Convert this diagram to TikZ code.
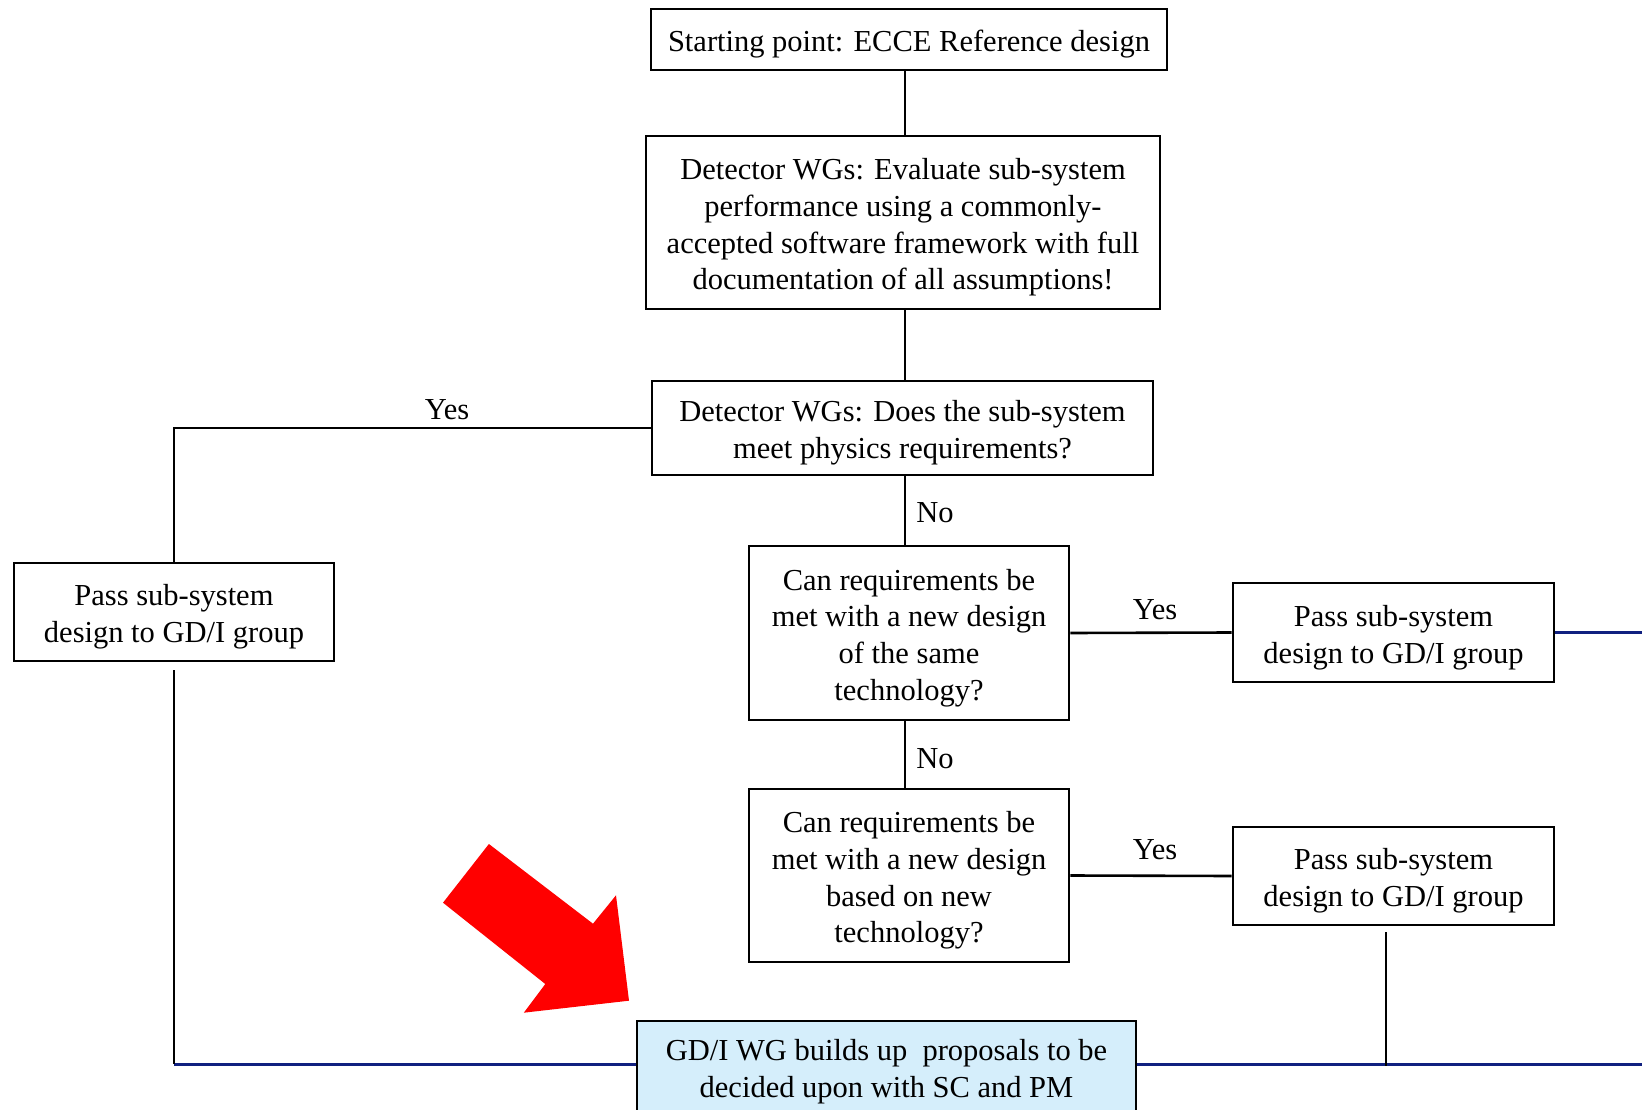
\documentclass[tikz,border=0pt]{standalone}
\usepackage{fontspec}
\setmainfont{Liberation Serif}
\definecolor{navy}{RGB}{16,32,128}
\definecolor{lightfill}{RGB}{213,238,251}
\newcommand\tsA{\rule{0pt}{31pt}}
\newcommand\tsB{\rule{0pt}{25pt}}
\begin{document}
\begin{tikzpicture}[x=1pt,y=-1pt,
  box/.style={draw=black, line width=2.8pt, align=center, inner sep=0pt, font=\fontsize{30.5}{36.6}\selectfont},
  gdibox/.style={box, fill=lightfill},
  conn/.style={line width=2.6pt, black},
  bline/.style={line width=3pt, navy},
  lab/.style={font=\fontsize{30.5}{36.6}\selectfont, inner sep=0pt}]
\useasboundingbox (0,0) rectangle (1642,1110);
\clip (0,0) rectangle (1642,1110);

\node[box, minimum width=516pt, minimum height=61pt] (start) at (909,39.5) {\tsA Starting point: ECCE Reference design};
\node[box, minimum width=514pt, minimum height=173pt] (eval) at (903,222.5) {\tsA Detector WGs: Evaluate sub-system\\performance using a commonly-\\accepted software framework with full\\documentation of all assumptions!};
\node[box, minimum width=501pt, minimum height=94pt] (meet) at (902.5,428) {\tsA Detector WGs: Does the sub-system\\meet physics requirements?};
\node[box, minimum width=320pt, minimum height=174pt] (same) at (909,633) {\tsA Can requirements be\\met with a new design\\of the same\\technology?};
\node[box, minimum width=320pt, minimum height=173pt] (newt) at (909,875.5) {\tsA Can requirements be\\met with a new design\\based on new\\technology?};
\node[box, minimum width=320pt, minimum height=98pt] (pass1) at (174,612) {\tsA Pass sub-system\\design to GD/I group};
\node[box, minimum width=321pt, minimum height=99pt] (pass2) at (1393.5,632.5) {\tsA Pass sub-system\\design to GD/I group};
\node[box, minimum width=321pt, minimum height=98pt] (pass3) at (1393.5,876) {\tsA Pass sub-system\\design to GD/I group};
\node[gdibox, minimum width=499pt, minimum height=97pt] (gdi) at (886.5,1069.5) {\tsB GD/I WG builds up\ \ proposals to be\\decided upon with SC and PM};

\coordinate (cx) at (905,0);
\coordinate (r1) at (1642,632.5);
\coordinate (p1b) at (174,670);
\coordinate (p1c) at (174,1064);
\coordinate (p3b) at (1386,932);
\coordinate (p3c) at (1386,1066);
\coordinate (r2) at (1642,1064);

\draw[conn] (start.south -| cx) -- (eval.north -| cx);
\draw[conn] (eval.south -| cx) -- (meet.north -| cx);
\draw[conn] (meet.south -| cx) -- (same.north -| cx);
\draw[conn] (same.south -| cx) -- (newt.north -| cx);
\draw[conn] (meet.west) -| (pass1.north);
\draw[conn] (same.east) -- (pass2.west);
\draw[conn] (newt.east) -- (pass3.west);

\draw[bline] (pass2.east) -- (r1);
\draw[bline] (p1c) -- (gdi.west |- p1c);
\draw[bline] (gdi.east |- r2) -- (r2);
\draw[conn] (p1b) -- (p1c);
\draw[conn] (p3b) -- (p3c);

\node[lab] (yes1) at (447,410) {Yes};
\node[lab] (no1) at (935,513) {No};
\node[lab] (no2) at (935,759) {No};
\node[lab] (yes2) at (1155,610) {Yes};
\node[lab] (yes3) at (1155,850) {Yes};

\fill[red] (488.9,844) -- (443,902.7) -- (545.3,984) -- (523.8,1012.7) -- (629,1000.7) -- (616,895.3) -- (593,923.7) -- cycle;
\end{tikzpicture}
\end{document}
